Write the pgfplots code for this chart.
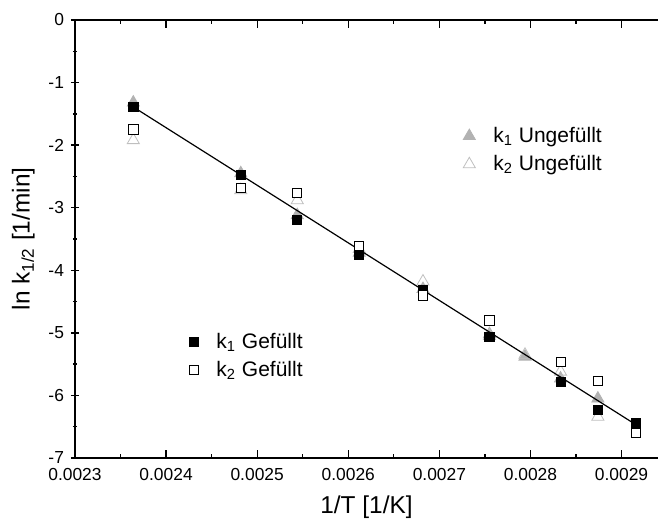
\documentclass[border=0pt]{standalone}
\usepackage{pgfplots}
\pgfplotsset{compat=1.18}
\usepackage{fontspec}
\setmainfont{Liberation Sans}
\definecolor{trifill}{gray}{0.70}
\definecolor{triedge}{gray}{0.75}

\begin{document}
\begin{tikzpicture}
\pgfplotsset{
  frame/.style={
    scale only axis, width=291.5pt, height=219pt,
    xmin=0.0023, xmax=0.00294, ymin=-7, ymax=0,
    anchor=south west, at={(0pt,0pt)},
  },
}
\begin{axis}[frame,
    axis x line=box, axis y line=left,
    axis line style={-, line width=0.65pt},
    every tick/.style={black, line width=0.65pt},
    major tick length=4pt, minor tick length=2pt,
    scaled x ticks=false,
    xtick={0.0023,0.0024,0.0025,0.0026,0.0027,0.0028,0.0029},
    xticklabels={0.0023,0.0024,0.0025,0.0026,0.0027,0.0028,0.0029},
    minor x tick num=1,
    ytick={-7,-6,-5,-4,-3,-2,-1,0},
    yticklabels={-7,-6,-5,-4,-3,-2,-1,0},
    minor y tick num=1,
    ticklabel style={font=\fontsize{8.7}{10}\selectfont},
    xticklabel style={yshift=-1.5pt},
    xlabel={1/T [1/K]},
    ylabel={ln k\textsubscript{1/2} [1/min]},
    label style={font=\fontsize{12.2}{14}\selectfont},
    xlabel style={yshift=-1pt},
    legend style={draw=none, fill=none, at={(0.655,0.775)}, anchor=north west,
      font=\fontsize{10.5}{12.6}\selectfont, row sep=1pt},
    legend cell align=left,
  ]
  % k1 ungefuellt
  \addplot[only marks, mark=triangle*, mark size=3.5pt, color=trifill] coordinates {
    (0.002364,-1.32) (0.002482,-2.45) (0.002544,-3.12) (0.002612,-3.72)
    (0.002682,-4.30) (0.002755,-5.02) (0.002794,-5.38) (0.002833,-5.73)
    (0.002874,-6.05)
  };
  \addlegendentry{\hspace{7pt}k\textsubscript{1} Ungefüllt}
  % k2 ungefuellt
  \addplot[only marks, mark=triangle, mark size=3.5pt, color=triedge] coordinates {
    (0.002364,-1.92) (0.002482,-2.72) (0.002544,-2.88) (0.002612,-3.66)
    (0.002682,-4.18) (0.002755,-5.05) (0.002794,-5.35) (0.002833,-5.62)
    (0.002874,-6.34)
  };
  \addlegendentry{\hspace{7pt}k\textsubscript{2} Ungefüllt}
\end{axis}
\begin{axis}[frame, hide axis,
    legend style={draw=none, fill=none, at={(0.185,0.305)}, anchor=north west,
      font=\fontsize{10.5}{12.6}\selectfont, row sep=1pt},
    legend cell align=left,
  ]
  \addplot[black, line width=0.6pt, forget plot] coordinates {
    (0.002364,-1.39) (0.002916,-6.47)
  };
  % k1 gefuellt
  \addplot[only marks, mark=square*, mark size=2.3pt, black] coordinates {
    (0.002364,-1.39) (0.002482,-2.48) (0.002544,-3.19) (0.002612,-3.76)
    (0.002682,-4.32) (0.002755,-5.07) (0.002833,-5.78) (0.002874,-6.23)
    (0.002916,-6.44)
  };
  \addlegendentry{\hspace{7pt}k\textsubscript{1} Gefüllt}
  % k2 gefuellt
  \addplot[only marks, mark=square*, mark size=2.3pt, black, mark options={fill=white}] coordinates {
    (0.002364,-1.75) (0.002482,-2.68) (0.002544,-2.76) (0.002612,-3.61)
    (0.002682,-4.40) (0.002755,-4.80) (0.002833,-5.46) (0.002874,-5.77)
    (0.002916,-6.60)
  };
  \addlegendentry{\hspace{7pt}k\textsubscript{2} Gefüllt}
\end{axis}
\pgfresetboundingbox
\useasboundingbox (-37.5pt,-32.5pt) rectangle (291.5pt,229pt);
\end{tikzpicture}
\end{document}
